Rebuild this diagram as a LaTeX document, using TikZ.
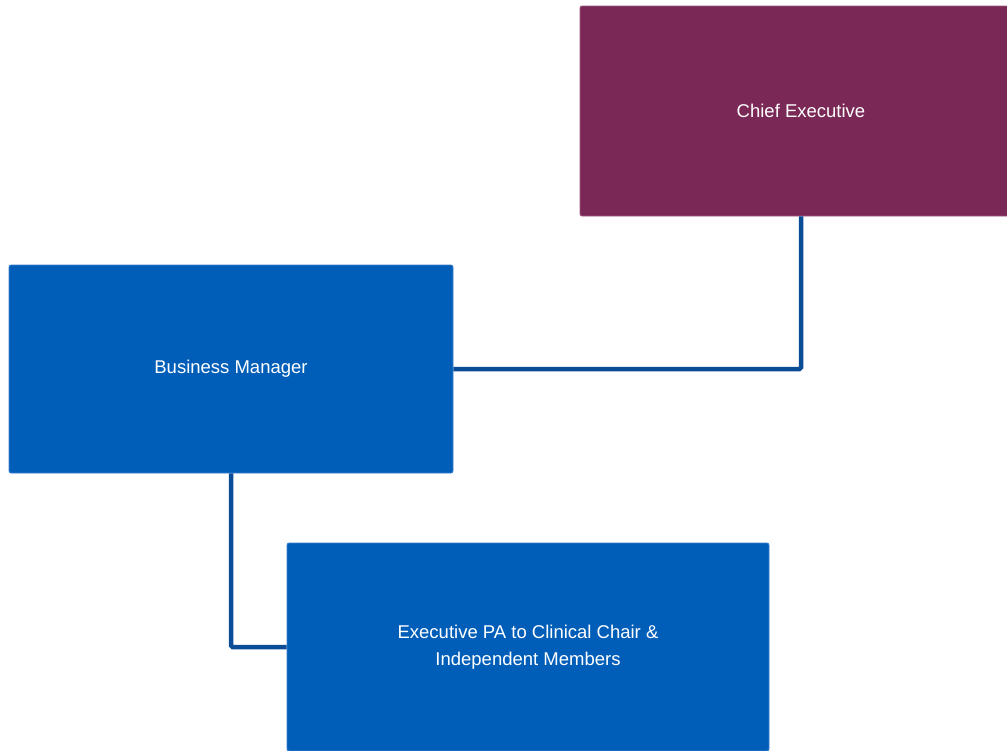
\documentclass[tikz,border=0pt]{standalone}
\usepackage{fontspec}
\setmainfont{Liberation Sans}
\definecolor{plum}{HTML}{7A2855}
\definecolor{plumedge}{HTML}{9A5A80}
\definecolor{nhsblue}{HTML}{005EB8}
\definecolor{blueedge}{HTML}{3C80D0}
\definecolor{linkblue}{HTML}{0A4C96}
\begin{document}
\begin{tikzpicture}[x=1pt,y=-1pt,
  box/.style={draw=blueedge, line width=0.8pt, fill=nhsblue, rounded corners=2pt, text=white,
    font=\fontsize{18.5}{27}\selectfont, align=center, inner sep=0pt},
  link/.style={draw=linkblue, line width=4.5pt, rounded corners=1.5pt}]
\useasboundingbox (0,0) rectangle (1007,750);
\begin{scope}
\clip (0,0) rectangle (1007,750);
\node[box, draw=plumedge, fill=plum, minimum width=442pt, minimum height=210pt] (ce) at (801,111) {Chief Executive};
\node[box, minimum width=444pt, minimum height=208pt] (bm) at (231,369) {Business Manager};
\node[box, minimum width=482pt, minimum height=208pt] (pa) at (528,647) {Executive PA to Clinical Chair \&\\Independent Members};
\draw[link] (ce.south) |- (bm.east);
\draw[link] (bm.south) |- (pa.west);
\end{scope}
\end{tikzpicture}
\end{document}
